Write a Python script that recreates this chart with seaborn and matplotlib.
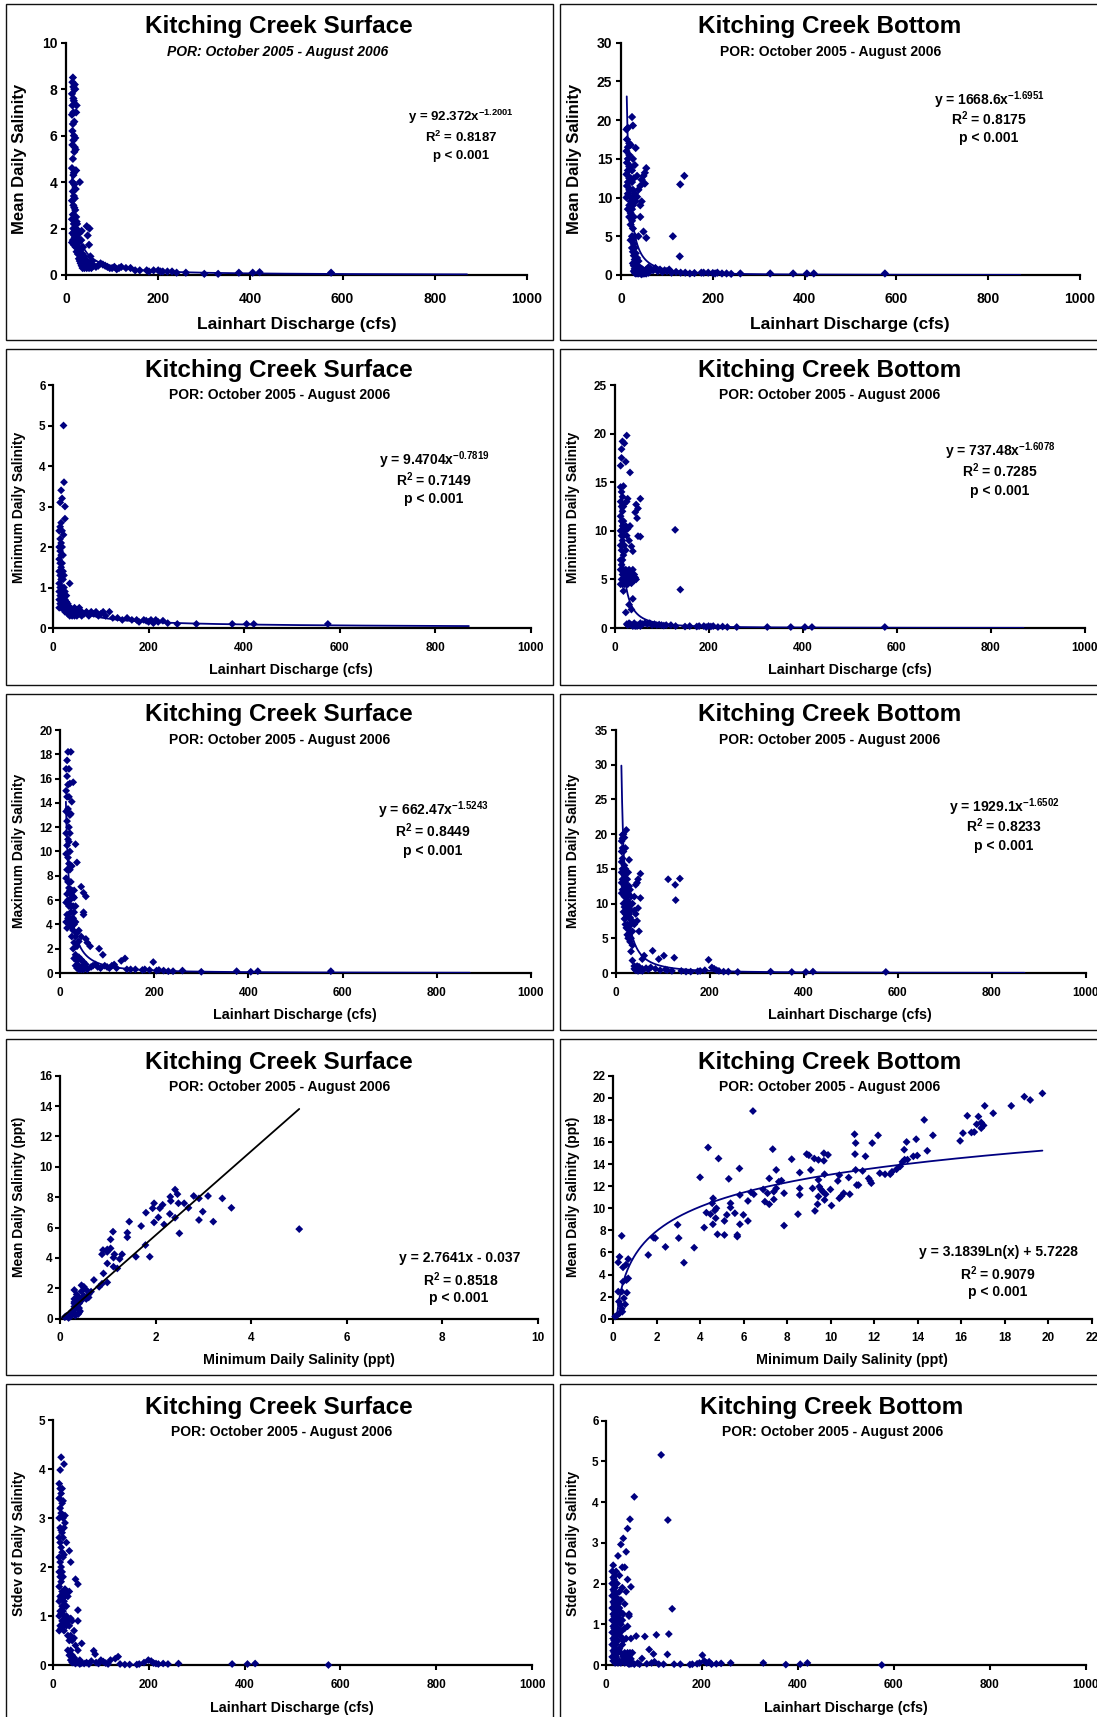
import numpy as np
import pandas as pd
import matplotlib
matplotlib.use("Agg")
import matplotlib.pyplot as plt
import seaborn as sns
from matplotlib.patches import Rectangle

# ------------------------------------------------------------------ data
# Lainhart discharge (cfs) -> list of daily salinity values observed at that discharge
MEAN_SURF = {
    13: [1.4, 2.4, 3.2, 4.6, 6.9, 7.8], 14: [1.8, 4.0, 5.6, 6.2, 7.3, 8.3],
    15: [1.5, 2.6, 3.6, 5.0, 6.5, 8.5], 16: [2.0, 3.0, 4.3, 5.8, 7.0, 7.6, 8.1],
    17: [1.3, 2.2, 3.4, 4.4, 6.0, 7.5], 18: [1.7, 2.9, 3.9, 5.3, 6.6, 8.0],
    19: [1.6, 2.3, 3.3, 5.5, 8.2], 20: [1.9, 2.8, 4.5, 5.9, 8.0],
    21: [1.2, 2.0, 3.7, 5.4], 22: [1.5, 2.5, 4.5, 7.0], 23: [1.0, 1.8, 2.3, 7.3],
    24: [1.4, 2.2], 26: [0.9, 1.6], 27: [1.2, 1.9], 28: [0.7, 1.4], 29: [1.0, 1.8],
    30: [4.0, 0.6], 32: [0.5, 1.1], 33: [0.8, 1.5], 34: [1.9, 0.4], 36: [0.3, 0.9],
    37: [0.6, 1.2], 40: [0.3, 0.8], 42: [0.5], 45: [0.3, 2.1], 46: [0.6], 47: [1.7],
    48: [0.4], 50: [0.3, 1.3], 51: [0.5, 2.0], 53: [0.8], 55: [0.3], 57: [0.6],
    60: [0.4], 65: [0.35], 70: [0.4], 75: [0.5], 80: [0.45], 85: [0.4], 90: [0.35],
    95: [0.3], 100: [0.3], 105: [0.35], 110: [0.25], 115: [0.3], 120: [0.35],
    130: [0.3], 140: [0.3], 150: [0.2], 160: [0.2], 175: [0.2], 180: [0.15],
    190: [0.2], 200: [0.2], 205: [0.15], 210: [0.15], 220: [0.15], 230: [0.15],
    240: [0.1], 260: [0.1], 300: [0.05], 330: [0.05], 375: [0.1], 405: [0.1],
    420: [0.12], 575: [0.1],
}
MEAN_BOT = {
    12: [10.0, 13.0, 16.0, 18.8], 13: [11.5, 14.5, 17.5],
    15: [8.5, 10.5, 12.0, 13.5, 15.0, 16.5, 19.0], 18: [7.5, 9.0, 11.0, 12.5, 14.0, 15.5, 17.0],
    21: [4.5, 6.5, 8.0, 9.5, 11.0, 12.5, 14.0, 16.8], 24: [3.5, 5.0, 7.0, 8.5, 10.0, 12.0, 13.5, 20.4],
    26: [1.5, 3.0, 4.5, 6.0, 9.0, 11.0, 15.0, 19.3], 28: [0.5, 1.2, 2.5, 4.0, 7.5, 10.0, 12.5],
    30: [0.3, 0.8, 2.0, 3.5, 5.0, 10.5, 14.2], 32: [0.2, 0.6, 1.5, 2.8, 9.5, 16.4],
    35: [0.2, 0.5, 1.2, 2.2, 10.1, 12.8], 38: [0.2, 0.4, 1.0, 1.8, 5.0, 11.0],
    42: [0.2, 0.4, 0.9, 7.5, 9.0, 11.5], 45: [0.1, 0.3, 0.8, 9.5, 12.3],
    49: [0.2, 0.6, 5.6, 12.8], 52: [0.2, 0.5, 13.2, 11.8], 55: [0.2, 0.7, 13.8, 4.8],
    60: [0.3, 1.0], 65: [0.8], 70: [0.6], 75: [0.9], 80: [0.5], 85: [0.7], 90: [0.4],
    95: [0.6], 100: [0.5], 105: [0.7], 110: [0.3], 113: [5.0], 120: [0.4], 128: [2.4],
    129: [11.7], 130: [0.3], 138: [12.8], 140: [0.3], 150: [0.2], 160: [0.25], 175: [0.3],
    180: [0.3], 190: [0.3], 200: [0.25], 205: [0.2], 210: [0.3], 220: [0.2], 230: [0.2],
    240: [0.15], 260: [0.2], 325: [0.2], 375: [0.2], 405: [0.2], 420: [0.2], 575: [0.2],
}
MIN_SURF = {
    13: [0.5, 0.7, 0.9, 1.1, 1.4, 1.7, 2.0, 2.4], 15: [0.6, 0.8, 1.0, 1.3, 1.6, 1.9, 2.2, 2.5, 3.1],
    17: [0.5, 0.7, 0.9, 1.2, 1.5, 1.8, 2.1, 2.6, 3.4], 19: [0.6, 0.8, 1.0, 1.3, 1.6, 2.0, 2.4, 3.2],
    21: [0.5, 0.7, 0.9, 1.2, 1.4, 1.8], 22: [5.0, 2.3], 23: [0.5, 0.6, 0.8, 1.0, 1.3, 3.6],
    25: [0.4, 0.55, 0.7, 0.9, 2.7, 3.0], 28: [0.4, 0.5, 0.65, 0.8], 31: [0.35, 0.45, 0.6],
    35: [0.3, 0.4, 0.5, 1.1], 40: [0.3, 0.35, 0.45], 45: [0.3, 0.4, 0.5], 50: [0.3, 0.35, 0.45],
    55: [0.35, 0.5], 60: [0.3, 0.4], 65: [0.35], 70: [0.4], 75: [0.3], 80: [0.4], 85: [0.35],
    90: [0.4], 95: [0.3], 100: [0.35], 105: [0.4], 110: [0.3], 118: [0.4], 125: [0.25],
    135: [0.25], 145: [0.2], 155: [0.25], 165: [0.2], 175: [0.2], 180: [0.15], 190: [0.2],
    195: [0.18], 200: [0.15], 205: [0.2], 210: [0.12], 215: [0.2], 220: [0.15], 230: [0.18],
    240: [0.12], 260: [0.1], 300: [0.1], 375: [0.1], 405: [0.1], 420: [0.1], 575: [0.1],
}
MIN_BOT = {
    13: [4.5, 6.0, 7.0, 8.5, 10.0, 11.5, 13.0, 14.5, 16.7], 15: [5.0, 6.5, 8.0, 9.5, 11.0, 12.5, 14.0, 17.5, 18.4],
    17: [4.5, 5.5, 7.0, 9.0, 10.5, 12.0, 13.5, 19.2], 19: [3.8, 5.0, 6.0, 7.5, 9.5, 11.0, 12.5, 14.6],
    21: [4.5, 5.5, 8.5, 10.0, 12.8, 19.0], 24: [1.6, 4.8, 6.0, 8.0, 10.5, 17.1],
    26: [0.4, 5.0, 5.8, 9.5, 13.0, 19.8], 28: [0.3, 4.5, 5.5, 10.2, 13.3],
    31: [0.5, 2.4, 4.8, 6.0, 9.0], 33: [0.4, 5.2, 5.7, 10.5, 16.0], 36: [0.3, 1.9, 4.6, 5.3, 8.4],
    39: [0.2, 3.0, 5.0, 6.0, 7.9], 42: [0.3, 0.5, 4.9, 5.5], 44: [0.2, 5.2, 11.9],
    46: [0.3, 5.0, 12.7], 48: [0.2, 11.3], 50: [0.3, 9.45, 12.3], 55: [0.2, 0.5, 9.4, 13.3],
    60: [0.4], 65: [0.5], 70: [0.4], 75: [0.5], 80: [0.3], 85: [0.4], 90: [0.3], 95: [0.35],
    100: [0.3], 105: [0.25], 110: [0.3], 120: [0.3], 129: [10.1], 130: [0.2], 140: [3.95],
    150: [0.15], 160: [0.2], 175: [0.15], 180: [0.2], 190: [0.2], 195: [0.1], 200: [0.2],
    205: [0.15], 210: [0.2], 220: [0.1], 230: [0.15], 240: [0.1], 260: [0.1], 325: [0.1],
    375: [0.1], 405: [0.1], 420: [0.1], 575: [0.1],
}
MAX_SURF = {
    13: [4.2, 5.8, 7.8, 9.8, 11.5, 13.3, 15.0, 16.8], 15: [3.7, 4.8, 6.5, 8.5, 10.5, 12.5, 14.5, 16.2, 17.5],
    17: [4.5, 6.0, 7.5, 9.5, 11.0, 13.5, 15.5, 18.2], 19: [4.0, 5.5, 7.0, 9.0, 10.8, 12.0, 14.5, 16.8],
    21: [4.5, 6.0, 6.8, 8.5, 10.0, 11.5, 13.0, 15.6], 23: [3.8, 5.0, 6.5, 7.5, 13.1, 18.2],
    25: [3.0, 4.2, 5.5, 6.8, 8.8, 14.1], 28: [2.0, 3.5, 4.5, 5.5, 6.3, 15.7],
    30: [1.2, 2.5, 4.0, 5.0, 6.2, 6.8], 33: [0.6, 1.5, 3.0, 4.2, 5.5, 10.6],
    36: [0.4, 1.0, 2.2, 3.3, 9.1], 40: [0.3, 0.6, 1.3, 2.6, 3.5], 45: [0.3, 0.5, 1.1, 3.0, 7.1],
    50: [0.3, 0.6, 0.9, 4.8, 5.0, 6.6], 55: [0.4, 0.7, 2.8, 6.3], 58: [0.3, 2.5],
    64: [2.2], 66: [0.5], 70: [0.6], 75: [0.7], 80: [0.5], 83: [2.0], 86: [0.4], 91: [1.5],
    95: [0.6], 100: [0.5], 105: [0.4], 110: [0.6], 115: [0.7], 120: [0.4], 130: [1.0],
    138: [1.2], 142: [0.3], 150: [0.3], 160: [0.3], 175: [0.25], 180: [0.3], 190: [0.25],
    198: [0.9], 205: [0.2], 210: [0.25], 220: [0.2], 230: [0.15], 240: [0.15], 260: [0.2],
    300: [0.1], 375: [0.15], 405: [0.1], 420: [0.15], 575: [0.15],
}
MAX_BOT = {
    13: [11.5, 13.0, 14.5, 16.0, 17.5, 19.0], 15: [12.0, 13.5, 15.0, 16.5, 18.0, 19.4, 19.9],
    17: [8.8, 10.0, 11.5, 13.0, 14.5, 17.5, 20.0], 19: [7.8, 9.5, 11.0, 12.5, 14.0, 15.5, 19.5],
    21: [7.0, 8.5, 10.0, 11.5, 13.0, 15.0, 18.0], 23: [6.5, 8.0, 9.5, 11.0, 12.5, 14.5, 20.6],
    25: [5.5, 7.0, 9.0, 10.5, 12.0, 13.5], 27: [5.0, 6.5, 8.0, 10.0, 11.5, 14.5],
    29: [5.2, 6.8, 8.5, 9.5, 12.5, 16.3], 31: [4.5, 6.0, 8.0, 10.0, 12.0],
    33: [3.1, 5.0, 7.0, 9.0, 11.0], 36: [1.8, 4.0, 6.0, 7.5, 10.0], 40: [0.6, 1.0, 7.0, 9.0, 11.0],
    43: [0.4, 0.8, 8.5, 12.7], 46: [0.5, 1.0, 7.5, 13.0], 48: [0.3, 9.35, 13.5],
    50: [0.5, 0.9, 6.0], 53: [0.4, 10.8, 14.3], 57: [0.3, 0.6, 2.0],
    61: [2.5], 65: [0.7], 70: [0.5], 75: [0.8], 79: [3.2], 85: [0.6], 92: [2.0], 95: [0.4],
    103: [2.5], 106: [0.5], 110: [0.4], 112: [13.5], 120: [0.3], 125: [2.2], 127: [12.7],
    128: [10.5], 137: [13.6], 140: [0.3], 150: [0.2], 160: [0.2], 175: [0.25], 180: [0.3],
    190: [0.4], 198: [1.9], 205: [0.8], 210: [0.6], 215: [0.4], 220: [0.3], 230: [0.2],
    240: [0.2], 260: [0.15], 330: [0.2], 375: [0.15], 405: [0.15], 420: [0.2], 575: [0.15],
}
SD_SURF = {
    13: [0.7, 1.0, 1.3, 1.6, 1.9, 2.2, 2.6, 3.0, 3.4, 3.7], 15: [0.8, 1.1, 1.4, 1.8, 2.1, 2.5, 2.8, 3.2, 3.6, 3.98],
    17: [0.75, 1.05, 1.35, 1.7, 2.0, 2.4, 2.75, 3.1, 3.5, 4.24], 19: [0.9, 1.2, 1.5, 1.9, 2.3, 2.7, 3.3, 3.6],
    21: [0.8, 1.1, 1.45, 1.8, 2.2, 2.6, 3.0, 3.35], 23: [0.7, 1.0, 1.3, 1.5, 2.25, 2.8, 4.1],
    25: [0.9, 1.2, 1.4, 1.55, 2.9, 3.05], 28: [0.8, 1.0, 1.2, 1.5, 2.5], 31: [0.3, 0.6, 0.9, 1.4],
    34: [0.2, 0.5, 0.8, 1.5, 2.33], 37: [0.1, 0.3, 0.6, 0.95, 2.1], 40: [0.05, 0.2, 0.5, 0.9],
    44: [0.05, 0.15, 0.55, 0.7], 47: [0.03, 0.1, 0.4, 1.75], 52: [0.05, 0.3, 0.9, 1.12, 1.65],
    56: [0.02, 0.1], 60: [0.04, 0.44], 65: [0.03], 70: [0.05], 75: [0.02], 80: [0.08],
    85: [0.29], 88: [0.22], 90: [0.05], 95: [0.03], 100: [0.1], 105: [0.07], 110: [0.04],
    115: [0.02], 120: [0.1], 130: [0.13], 136: [0.17], 140: [0.02], 150: [0.01], 160: [0.01],
    175: [0.01], 180: [0.02], 190: [0.05], 199: [0.1], 205: [0.08], 210: [0.04], 215: [0.03],
    220: [0.02], 230: [0.03], 240: [0.02], 262: [0.03], 374: [0.02], 406: [0.02], 422: [0.03],
    575: [0.0],
}
SD_BOT = {
    13: [0.2, 0.5, 0.8, 1.1, 1.4, 1.7, 2.0, 2.3], 15: [0.1, 0.35, 0.65, 0.95, 1.25, 1.55, 1.85, 2.15, 2.45],
    17: [0.3, 0.6, 0.9, 1.2, 1.5, 1.8, 2.1], 19: [0.05, 0.4, 0.7, 1.0, 1.3, 1.6, 1.9, 2.2],
    21: [0.2, 0.5, 0.8, 1.1, 1.45, 1.75, 2.3], 23: [0.1, 0.35, 0.75, 1.05, 1.35, 1.65, 2.0],
    25: [0.05, 0.3, 0.6, 0.9, 1.2, 1.5, 2.68], 28: [0.1, 0.4, 0.8, 1.15, 1.4, 1.8, 2.2],
    31: [0.05, 0.3, 0.7, 1.0, 1.3, 1.6, 2.96], 34: [0.1, 0.5, 0.85, 1.1, 1.9, 2.4],
    36: [0.2, 0.6, 1.25, 3.11], 39: [0.05, 0.3, 0.9, 1.5, 2.4], 42: [0.1, 0.25, 0.65, 1.8, 2.78],
    45: [0.05, 0.3, 0.95, 2.1, 3.35], 48: [0.02, 0.2, 1.2, 1.25], 50: [0.1, 0.3, 3.58],
    52: [0.03, 0.15, 0.65, 1.92], 55: [0.05, 0.3], 59: [0.02, 4.13], 63: [0.71], 66: [0.05],
    70: [0.02], 75: [0.16], 81: [0.7], 85: [0.03], 90: [0.38], 95: [0.05], 99: [0.27],
    101: [0.08], 105: [0.74], 110: [0.02], 115: [5.16], 120: [0.02], 128: [0.26], 129: [3.56],
    131: [0.76], 138: [1.38], 142: [0.02], 155: [0.02], 175: [0.01], 180: [0.02], 190: [0.03],
    195: [0.05], 201: [0.24], 205: [0.1], 210: [0.05], 215: [0.08], 220: [0.02], 230: [0.03],
    240: [0.04], 260: [0.05], 328: [0.05], 375: [0.01], 405: [0.02], 420: [0.05], 575: [0.0],
}

# Mean vs minimum daily salinity (ppt)
SURF_MIN = [0.10, 0.12, 0.15, 0.18, 0.20, 0.22, 0.25, 0.25, 0.28, 0.30, 0.30, 0.30, 0.30, 0.30,
            0.32, 0.35, 0.35, 0.35, 0.38, 0.40, 0.40, 0.40, 0.40, 0.42, 0.45, 0.45, 0.50, 0.50,
            0.55, 0.55, 0.60, 0.60, 0.65, 0.71, 0.82, 0.88, 0.91, 0.90, 0.88, 0.99, 0.99, 0.99,
            1.06, 1.06, 1.11, 1.14, 1.12, 1.12, 1.20, 1.25, 1.30, 1.41, 1.41, 1.45, 1.59, 1.70,
            1.79, 1.80, 1.88, 1.94, 1.97, 1.97, 2.06, 2.09, 2.15, 2.18, 2.30, 2.31, 2.32, 2.41,
            2.41, 2.46, 2.48, 2.50, 2.60, 2.69, 2.80, 2.91, 2.91, 2.99, 3.10, 3.21, 3.40, 3.59,
            5.01, 0.99, 0.30, 0.45]
SURF_MEAN = [0.10, 0.15, 0.20, 0.05, 0.30, 0.15, 0.50, 0.25, 0.40, 0.80, 1.00, 1.30, 1.89, 0.60,
             0.20, 1.10, 1.60, 0.90, 0.30, 0.40, 0.70, 1.40, 1.00, 0.50, 1.80, 1.20, 2.10, 1.50,
             1.90, 1.30, 1.60, 1.40, 1.78, 2.55, 2.10, 4.24, 2.98, 4.52, 2.30, 4.56, 3.64, 2.39,
             4.63, 5.22, 5.73, 4.24, 4.02, 3.42, 3.31, 3.93, 4.24, 5.66, 5.36, 6.39, 4.08, 6.10,
             4.85, 6.98, 4.08, 7.27, 7.60, 6.34, 6.67, 7.27, 7.50, 6.20, 6.90, 8.03, 7.75, 8.50,
             6.65, 8.20, 7.60, 5.62, 7.60, 7.30, 8.08, 7.92, 6.50, 7.05, 8.08, 6.39, 7.92, 7.30,
             5.90, 4.40, 1.10, 2.20]
BOT_MIN = [0.40, 0.30, 0.24, 0.46, 0.60, 0.70, 0.46, 0.62, 0.70, 0.24, 0.40, 0.64, 0.50, 0.56,
           0.35, 0.43, 0.20, 0.10, 0.30, 0.40, 0.27, 1.62, 1.86, 1.94, 2.41, 2.97, 3.02, 3.26,
           3.73, 4.00, 4.19, 4.29, 4.37, 4.48, 4.56, 4.60, 4.59, 4.68, 4.72, 4.80, 4.85, 4.75,
           5.12, 5.12, 5.23, 5.32, 5.40, 5.40, 5.60, 5.71, 5.71, 5.81, 5.83, 5.83, 5.99, 6.20,
           6.20, 6.34, 6.43, 6.47, 6.90, 6.98, 7.10, 7.18, 7.18, 7.34, 7.39, 7.39, 7.50, 7.50,
           7.62, 7.74, 7.86, 7.86, 8.21, 8.50, 8.58, 8.58, 8.58, 8.90, 9.00, 9.09, 9.17, 9.25,
           9.28, 9.40, 9.44, 9.44, 9.44, 9.48, 9.56, 9.64, 9.69, 9.69, 9.72, 9.72, 9.77, 9.88,
           9.99, 10.04, 10.33, 10.40, 10.40, 10.50, 10.60, 10.83, 10.88, 11.10, 11.12, 11.15,
           11.15, 11.20, 11.28, 11.47, 11.60, 11.75, 11.82, 11.87, 11.91, 12.18, 12.26, 12.50,
           12.74, 12.82, 13.03, 13.20, 13.30, 13.38, 13.40, 13.49, 13.53, 13.80, 13.93, 13.98,
           14.30, 14.44, 14.70, 15.95, 16.08, 16.28, 16.47, 16.60, 16.71, 16.79, 16.92, 16.92,
           17.03, 17.08, 17.47, 18.30, 18.90, 19.17, 19.73]
BOT_MEAN = [7.50, 5.60, 5.10, 4.65, 4.90, 5.40, 3.35, 3.50, 3.65, 2.45, 2.45, 2.35, 1.85, 1.30,
            1.25, 0.63, 0.33, 0.20, 0.50, 0.90, 1.55, 5.77, 7.34, 7.30, 6.50, 8.50, 7.30, 5.07,
            6.43, 12.80, 8.25, 9.60, 15.50, 9.46, 10.45, 10.90, 8.55, 9.80, 9.10, 7.64, 14.50, 10.00,
            8.85, 7.58, 9.40, 12.66, 10.45, 10.06, 9.55, 7.58, 7.43, 13.60, 8.55, 11.20, 9.40, 10.66,
            8.85, 11.45, 18.80, 11.27, 11.70, 10.60, 11.36, 12.70, 10.36, 15.35, 10.80, 11.50, 13.47, 11.80,
            12.40, 12.50, 8.43, 11.36, 14.44, 9.46, 13.23, 11.80, 11.20, 14.90, 14.80, 13.47, 11.80, 14.50,
            9.76, 10.36, 12.57, 14.38, 11.06, 11.96, 11.70, 11.50, 14.98, 14.30, 13.08, 10.75, 11.27, 14.83,
            11.70, 10.24, 12.47, 13.00, 10.90, 11.10, 11.36, 12.78, 11.27, 16.70, 14.90, 15.90,
            13.47, 12.10, 12.10, 13.38, 14.70, 12.70, 12.47, 12.27, 15.90, 16.60, 13.17, 13.08,
            13.08, 13.30, 13.53, 13.80, 14.20, 15.30, 14.40, 16.00, 14.40, 14.70, 16.25, 14.77,
            18.00, 15.20, 16.60, 16.10, 16.80, 18.37, 16.86, 16.90, 17.60, 18.30, 17.76, 17.25,
            17.50, 19.27, 18.60, 19.27, 20.10, 19.80, 20.40]

# Reported fits
FIT_MEAN_SURF = ("92.372", "-1.2001", "0.8187")
FIT_MEAN_BOT = ("1668.6", "-1.6951", "0.8175")
FIT_MIN_SURF = ("9.4704", "-0.7819", "0.7149")
FIT_MIN_BOT = ("737.48", "-1.6078", "0.7285")
FIT_MAX_SURF = ("662.47", "-1.5243", "0.8449")
FIT_MAX_BOT = ("1929.1", "-1.6502", "0.8233")
FIT_LIN_SURF = ("2.7641", "-0.037", "0.8518")
FIT_LOG_BOT = ("3.1839", "5.7228", "0.9079")
Q_RANGE = (12.5, 870.0)

TITLE_S = "Kitching Creek Surface"
TITLE_B = "Kitching Creek Bottom"
SUBTITLE = "POR: October 2005 - August 2006"
XQ = "Lainhart Discharge (cfs)"
XMIN = "Minimum Daily Salinity (ppt)"

# ------------------------------------------------------------------ style
W, H = 1097, 1717
NAVY = "#000080"
TITLE_FS = 17.5
MS = 16
sns.set_style("ticks")
plt.rcParams["font.family"] = ["Liberation Sans", "DejaVu Sans"]
plt.rcParams["font.weight"] = "bold"
plt.rcParams["mathtext.fontset"] = "custom"
plt.rcParams["mathtext.rm"] = "Liberation Sans:bold"
plt.rcParams["mathtext.it"] = "Liberation Sans:bold"
plt.rcParams["mathtext.bf"] = "Liberation Sans:bold"
plt.rcParams["mathtext.default"] = "rm"

fig = plt.figure(figsize=(W / 100, H / 100), dpi=100, facecolor="white")


def ftext(x, y, s, size, **kw):
    fig.text(x / W, 1 - y / H, s, fontsize=size, ha="center", va="center",
             color="black", **kw)


def frame(x0, y0, x1, y1):
    fig.add_artist(Rectangle((x0 / W, 1 - y1 / H), (x1 - x0) / W, (y1 - y0) / H,
                             transform=fig.transFigure, fill=False, lw=1.0,
                             ec="#111111"))


def make_axes(x0, ytop, x1, ybot, xlim, ylim, xstep, ystep, tick_fs, xpad, ypad):
    ax = fig.add_axes([x0 / W, 1 - ybot / H, (x1 - x0) / W, (ybot - ytop) / H])
    ax.set_xlim(*xlim)
    ax.set_ylim(*ylim)
    xt = np.arange(xlim[0], xlim[1] + xstep / 2, xstep)
    yt = np.arange(ylim[0], ylim[1] + ystep / 2, ystep)
    ax.set_xticks(xt)
    ax.set_yticks(yt)
    ax.set_xticklabels([f"{v:g}" for v in xt])
    ax.set_yticklabels([f"{v:g}" for v in yt])
    sns.despine(ax=ax)
    for s in ("left", "bottom"):
        ax.spines[s].set_linewidth(1.6)
        ax.spines[s].set_color("black")
    ax.tick_params(direction="out", length=3.8, width=1.5, color="black",
                   labelsize=tick_fs, labelcolor="black")
    ax.tick_params(axis="x", pad=xpad)
    ax.tick_params(axis="y", pad=ypad)
    ax.patch.set_alpha(0)
    return ax


def to_frame(groups):
    q, s = [], []
    for k, vals in groups.items():
        q.extend([k] * len(vals))
        s.extend(vals)
    return pd.DataFrame({"q": q, "s": s})


def scatter(ax, df, x="q", y="s", size=MS):
    sns.scatterplot(data=df, x=x, y=y, ax=ax, marker="D", s=size, color=NAVY,
                    edgecolor="none", linewidth=0, clip_on=False, zorder=3,
                    legend=False)
    ax.set_xlabel("")
    ax.set_ylabel("")


def power_line(ax, fit):
    a, b = float(fit[0]), float(fit[1])
    qq = np.geomspace(Q_RANGE[0], Q_RANGE[1], 400)
    sns.lineplot(x=qq, y=a * qq ** b, ax=ax, color=NAVY, linewidth=1.3,
                 estimator=None, sort=False, zorder=4)


def power_note(cx, ys, fit, size):
    ftext(cx, ys[0], f"y = {fit[0]}x$^{{{fit[1]}}}$", size)
    ftext(cx, ys[1], f"R$^{{2}}$ = {fit[2]}", size)
    ftext(cx, ys[2], "p < 0.001", size)


# ------------------------------------------------------------------ frames
LB, RB = (6, 553), (560, 1102)
ROWS = [(4, 340), (349, 685), (694, 1030), (1039, 1375), (1384, 1722)]
for (t, b) in ROWS:
    frame(LB[0], t, LB[1], b)
    frame(RB[0], t, RB[1], b)

# ------------------------------------------------------------------ row 1
ax = make_axes(66, 42.7, 527, 275, (0, 1000), (0, 10), 200, 2, 10, 8.5, 2.5)
scatter(ax, to_frame(MEAN_SURF), size=18)
power_line(ax, FIT_MEAN_SURF)
ftext(279, 27, TITLE_S, TITLE_FS)
ftext(278, 52, SUBTITLE, 10, style="italic")
ftext(297, 325, XQ, 12.5)
ftext(20, 159, "Mean Daily Salinity", 12, rotation=90)
power_note(461, (117, 137, 156), FIT_MEAN_SURF, 9.5)

ax = make_axes(621, 42.7, 1080, 275, (0, 1000), (0, 30), 200, 5, 10, 8.5, 2.5)
scatter(ax, to_frame(MEAN_BOT), size=18)
power_line(ax, FIT_MEAN_BOT)
ftext(830, 27, TITLE_B, TITLE_FS)
ftext(831, 52, SUBTITLE, 10)
ftext(850, 325, XQ, 12.5)
ftext(574, 159, "Mean Daily Salinity", 12, rotation=90)
power_note(989, (100, 119, 138), FIT_MEAN_BOT, 10)

# ------------------------------------------------------------------ row 2
ax = make_axes(53, 385, 531, 628, (0, 1000), (0, 6), 200, 1, 8.5, 6, 1.5)
scatter(ax, to_frame(MIN_SURF))
power_line(ax, FIT_MIN_SURF)
ftext(279, 370, TITLE_S, TITLE_FS)
ftext(280, 395, SUBTITLE, 10)
ftext(291, 670, XQ, 10.3)
ftext(19, 507, "Minimum Daily Salinity", 10, rotation=90)
power_note(434, (460, 480, 499), FIT_MIN_SURF, 10)

ax = make_axes(614.5, 385, 1084.6, 628, (0, 1000), (0, 25), 200, 5, 8.5, 6, 1.5)
scatter(ax, to_frame(MIN_BOT))
power_line(ax, FIT_MIN_BOT)
ftext(830, 370, TITLE_B, TITLE_FS)
ftext(830, 395, SUBTITLE, 10)
ftext(850, 670, XQ, 10.3)
ftext(573, 507, "Minimum Daily Salinity", 10, rotation=90)
power_note(1000, (451, 471, 491), FIT_MIN_BOT, 10)

# ------------------------------------------------------------------ row 3
ax = make_axes(60, 730, 531, 973, (0, 1000), (0, 20), 200, 2, 8.5, 6, 1.5)
scatter(ax, to_frame(MAX_SURF))
power_line(ax, FIT_MAX_SURF)
ftext(279, 715, TITLE_S, TITLE_FS)
ftext(280, 740, SUBTITLE, 10)
ftext(295, 1015, XQ, 10.3)
ftext(19, 851, "Maximum Daily Salinity", 10, rotation=90)
power_note(433, (810, 831, 851), FIT_MAX_SURF, 10)

ax = make_axes(615.5, 730, 1085.6, 973, (0, 1000), (0, 35), 200, 5, 8.5, 6, 1.5)
scatter(ax, to_frame(MAX_BOT))
power_line(ax, FIT_MAX_BOT)
ftext(830, 715, TITLE_B, TITLE_FS)
ftext(830, 740, SUBTITLE, 10)
ftext(850, 1015, XQ, 10.3)
ftext(573, 851, "Maximum Daily Salinity", 10, rotation=90)
power_note(1004, (807, 826, 846), FIT_MAX_BOT, 10)

# ------------------------------------------------------------------ row 4
ax = make_axes(60, 1075.7, 537.5, 1318.7, (0, 10), (0, 16), 2, 2, 8.5, 6, 1.5)
scatter(ax, pd.DataFrame({"mn": SURF_MIN, "mean": SURF_MEAN}), x="mn", y="mean")
a, b = float(FIT_LIN_SURF[0]), float(FIT_LIN_SURF[1])
xl = np.array([0.05, max(SURF_MIN)])
sns.lineplot(x=xl, y=a * xl + b, ax=ax, color="black", linewidth=1.3,
             estimator=None, sort=False, zorder=4)
ftext(279, 1062, TITLE_S, TITLE_FS)
ftext(280, 1087, SUBTITLE, 10)
ftext(299, 1360, XMIN, 10.3)
ftext(19, 1197, "Mean Daily Salinity (ppt)", 10, rotation=90)
ftext(460, 1258, f"y = {FIT_LIN_SURF[0]}x - {FIT_LIN_SURF[1][1:]}", 10)
ftext(461, 1280, f"R$^{{2}}$ = {FIT_LIN_SURF[2]}", 10)
ftext(459, 1298, "p < 0.001", 10)

ax = make_axes(613, 1075.7, 1091.8, 1318.7, (0, 22), (0, 22), 2, 2, 8.5, 6, 1.5)
scatter(ax, pd.DataFrame({"mn": BOT_MIN, "mean": BOT_MEAN}), x="mn", y="mean")
a, c = float(FIT_LOG_BOT[0]), float(FIT_LOG_BOT[1])
xg = np.geomspace(np.exp(-c / a), max(BOT_MIN), 300)
sns.lineplot(x=xg, y=a * np.log(xg) + c, ax=ax, color=NAVY, linewidth=1.3,
             estimator=None, sort=False, zorder=4)
ftext(830, 1062, TITLE_B, TITLE_FS)
ftext(830, 1087, SUBTITLE, 10)
ftext(852, 1360, XMIN, 10.3)
ftext(573, 1197, "Mean Daily Salinity (ppt)", 10, rotation=90)
ftext(998, 1252, f"y = {FIT_LOG_BOT[0]}Ln(x) + {FIT_LOG_BOT[1]}", 10)
ftext(998, 1274, f"R$^{{2}}$ = {FIT_LOG_BOT[2]}", 10)
ftext(998, 1292, "p < 0.001", 10)

# ------------------------------------------------------------------ row 5
ax = make_axes(53, 1420, 532, 1665, (0, 1000), (0, 5), 200, 1, 8.5, 6, 1.5)
scatter(ax, to_frame(SD_SURF))
ftext(279, 1407, TITLE_S, TITLE_FS)
ftext(282, 1432, SUBTITLE, 10)
ftext(292, 1708, XQ, 10.3)
ftext(19, 1543, "Stdev of Daily Salinity", 10, rotation=90)

ax = make_axes(606, 1420.7, 1085.6, 1665, (0, 1000), (0, 6), 200, 1, 8.5, 6, 1.5)
scatter(ax, to_frame(SD_BOT))
ftext(832, 1407, TITLE_B, TITLE_FS)
ftext(833, 1432, SUBTITLE, 10)
ftext(846, 1708, XQ, 10.3)
ftext(573, 1543, "Stdev of Daily Salinity", 10, rotation=90)

fig.savefig("out.png", dpi=100, facecolor="white")
